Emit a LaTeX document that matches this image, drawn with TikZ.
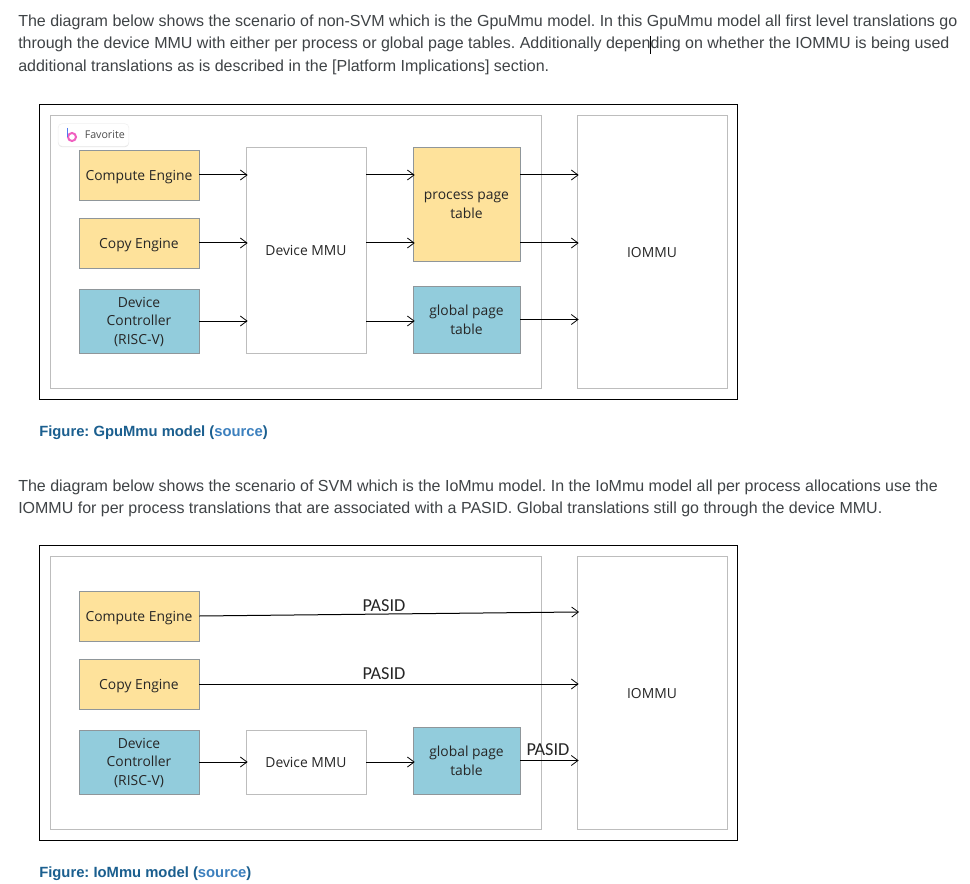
\documentclass[tikz,border=0pt]{standalone}
\usepackage{fontspec}
\setmainfont{Liberation Sans}
\newfontfamily\boxfont{Open Sans}
\newfontfamily\tagfont{Carlito}
\usetikzlibrary{arrows.meta,positioning,shadows}
\definecolor{engineyellow}{HTML}{FEE29B}
\definecolor{ctrlblue}{HTML}{92CCDC}
\definecolor{boxgray}{HTML}{8F969A}
\definecolor{framegray}{HTML}{BDBDBD}
\definecolor{bodytext}{HTML}{3F4346}
\definecolor{capblue}{HTML}{1B5F8F}
\definecolor{linkblue}{HTML}{3C80BE}
\definecolor{logopink}{HTML}{F060C0}
\definecolor{logoblue}{HTML}{4F7BF0}
\tikzset{%
	boxtext/.style  = {inner sep=0pt, align=center, text=black!85, font=\boxfont\fontsize{10.4pt}{14.2pt}\selectfont},
	engine/.style   = {draw=boxgray, fill=engineyellow, inner sep=0pt},
	ctrl/.style     = {engine, fill=ctrlblue},
	mmubox/.style   = {draw=framegray, line width=0.6pt, fill=white, inner sep=0pt},
	frame/.style    = {draw=black, line width=0.6pt},
	panel/.style    = {draw=framegray, line width=0.6pt},
	arrow/.style    = {line width=0.75pt, -{Straight Barb[length=5pt,width=7.5pt,line width=0.6pt]}, shorten >=-1.5pt},
	para/.style     = {anchor=base west, inner sep=0pt, text=bodytext, font=\fontsize{12pt}{14pt}\selectfont},
	caption/.style  = {anchor=base west, inner sep=0pt, text=capblue, font=\bfseries\fontsize{11.1pt}{14pt}\selectfont},
	tag/.style      = {inner sep=0pt, text=black!85, font=\tagfont\fontsize{13.7pt}{14pt}\selectfont},
}
% style, name, x, y, text, width, height, text offset down
\newcommand{\boxat}[8]{\node[#1, minimum width=#6*0.75pt, minimum height=#7*0.75pt, label={[boxtext, yshift=-#8*0.75pt]center:{#5}}] (#2) at (#3,#4) {};}

\begin{document}
\frenchspacing
\begin{tikzpicture}[x=0.75pt,y=-0.75pt]
	\useasboundingbox (0,0) rectangle (970,884);
	\fill[white] (0,0) rectangle (970,884);

	% text above the first figure
	\node[para] (introa) at (18,27) {The diagram below shows the scenario of non-SVM which is the GpuMmu model. In this GpuMmu model all first level translations go};
	\node[para] (introb) at (18,49) {through the device MMU with either per process or global page tables. Additionally depending on whether the IOMMU is being used};
	\node[para] (introc) at (18,72) {additional translations as is described in the [Platform Implications] section.};
	\draw[black, line width=0.6pt] (650,36) -- (650,54);

	% frames of both figures
	\foreach \yo in {0,441} {
		\draw[panel] (50,115+\yo) rectangle (541,388+\yo);
		\draw[frame] (39,104+\yo) rectangle (737,399+\yo);
	}

	% GpuMmu model
	\boxat{mmubox}{iommuA}{652}{251.5}{IOMMU}{150}{273}{1}
	\boxat{engine}{computeA}{139}{175}{Compute Engine}{120}{50}{2}
	\boxat{engine}{copyA}{139}{243}{Copy Engine}{120}{50}{2}
	\boxat{ctrl}{ctrlA}{139}{321}{Device\\Controller\\(RISC-V)}{120}{64}{1}
	\boxat{mmubox}{mmuA}{306}{250}{Device MMU}{120}{206}{0}
	\boxat{engine}{procA}{466.5}{204}{process page\\table}{107}{114}{1}
	\boxat{ctrl}{globA}{466.5}{319.5}{global page\\table}{107}{67}{0.5}

	\foreach \from/\to in {computeA/mmuA,copyA/mmuA,ctrlA/mmuA} \draw[arrow] (\from.east) -- (\from.east -| \to.west);
	\foreach \from/\to in {computeA/procA,copyA/procA,ctrlA/globA} \draw[arrow] (\from.east -| mmuA.east) -- (\from.east -| \to.west);
	\foreach \from in {computeA,copyA,globA} \draw[arrow] (\from.east -| procA.east) -- (\from.east -| iommuA.west);

	% favorite chip
	\node[draw=black!6, fill=white, rounded corners=3pt, drop shadow={shadow xshift=0pt, shadow yshift=-0.6pt, opacity=0.25}, minimum width=53pt, minimum height=17pt, inner sep=0pt] (chip) at (93.5,135) {};
	\node[anchor=west, inner sep=0pt, text=black!70, font=\boxfont\fontsize{8pt}{9pt}\selectfont] (chiptext) at (84.5,135) {Favorite};
	\draw[logopink, line width=1.5pt] (72,137) circle (4);
	\draw[logoblue, line width=1.4pt] (67.5,128) -- (67.5,137);

	\node[caption] (capA) at (39,436) {Figure: GpuMmu model (\textcolor{linkblue}{source})};

	% text between the figures
	\node[para] (middlea) at (18,491) {The diagram below shows the scenario of SVM which is the IoMmu model. In the IoMmu model all per process allocations use the};
	\node[para] (middleb) at (18,513) {IOMMU for per process translations that are associated with a PASID. Global translations still go through the device MMU.};

	% IoMmu model
	\boxat{mmubox}{iommuB}{652}{692.5}{IOMMU}{150}{273}{1}
	\boxat{engine}{computeB}{139}{616}{Compute Engine}{120}{50}{2}
	\boxat{engine}{copyB}{139}{684}{Copy Engine}{120}{50}{2}
	\boxat{ctrl}{ctrlB}{139}{762}{Device\\Controller\\(RISC-V)}{120}{64}{1}
	\boxat{mmubox}{mmuB}{306}{762}{Device MMU}{120}{64}{0}
	\boxat{ctrl}{globB}{466.5}{760.5}{global page\\table}{107}{67}{0.5}

	\coordinate (pasidend) at (577,612);
	\draw[arrow] (computeB.east) -- (pasidend);
	\draw[arrow] (copyB.east) -- (copyB.east -| iommuB.west);
	\draw[arrow] (ctrlB.east) -- (mmuB.west);
	\draw[arrow] (mmuB.east) -- (mmuB.east -| globB.west);
	\draw[arrow] (globB.east) -- (globB.east -| iommuB.west);

	\node[tag] (pasidA) at (384,606) {PASID};
	\node[tag] (pasidB) at (384,674) {PASID};
	\node[tag] (pasidC) at (548,749.5) {PASID};

	\node[caption] (capB) at (39,877) {Figure: IoMmu model (\textcolor{linkblue}{source})};
\end{tikzpicture}
\end{document}
